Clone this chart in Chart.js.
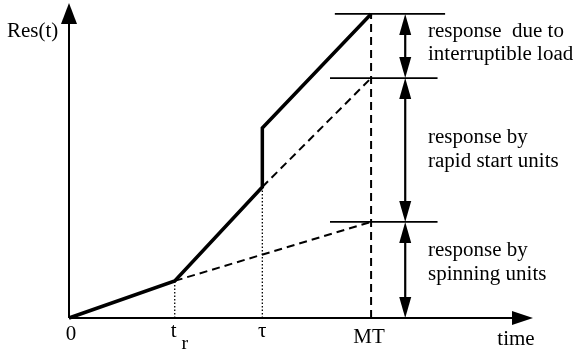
<!DOCTYPE html>
<html>
<head>
<meta charset="utf-8">
<script src="https://cdn.jsdelivr.net/npm/chart.js@4.4.1/dist/chart.umd.min.js"></script>
<style>
  html, body { margin: 0; padding: 0; background: #fff; }
  #wrap { width: 575px; height: 352px; }
</style>
</head>
<body>
<div id="wrap"><canvas id="resChart"></canvas></div>
<script>
// time marks (arbitrary units) and response levels
const tickNames = ['0', 't', '\u03c4', 'MT'];
const tickTimes = [0, 3.5, 6.4, 10];
const responseTimes = [0, 3.5, 6.4, 6.4, 10];
const responseValues = [0, 1.22, 4.31, 6.25, 10];
const spinningLine = [[3.5, 1.22], [10, 3.16]];
const rapidLine = [[6.4, 4.31], [10, 7.89]];
const levels = [10, 7.89, 3.16];
const levelSpans = [[8.8, 12.45], [8.64, 12.2], [8.64, 12.2]];
const arrowTime = 11.13;
const sideLabels = [
    ['response  due to', 'interruptible load'],
    ['response by', 'rapid start units'],
    ['response by', 'spinning units']
];
const xMax = 15.36;
const yMax = 10.36;

const FONT = '20px "Liberation Serif", "DejaVu Serif", serif';

function pts(xs, ys) {
    return xs.map((x, i) => ({ x: x, y: ys[i] }));
}
function pairPts(p) {
    return p.map(a => ({ x: a[0], y: a[1] }));
}

function drawText(ctx, txt, x, y, align) {
    ctx.save();
    ctx.translate(x, y);
    ctx.scale(1.05, 1);
    ctx.textAlign = align || 'left';
    ctx.textBaseline = 'alphabetic';
    ctx.fillText(txt, 0, 0);
    ctx.restore();
}

function arrowHead(ctx, tipX, tipY, dx, dy, len, half) {
    // dx, dy: unit direction the arrow points
    const bx = tipX - dx * len, by = tipY - dy * len;
    ctx.beginPath();
    ctx.moveTo(tipX, tipY);
    ctx.lineTo(bx - dy * half, by + dx * half);
    ctx.lineTo(bx + dy * half, by - dx * half);
    ctx.closePath();
    ctx.fill();
}

const decorPlugin = {
    id: 'decor',
    afterDatasetsDraw(chart) {
        const ctx = chart.ctx;
        const xs = chart.scales.x, ys = chart.scales.y;
        const x0 = xs.getPixelForValue(0), y0 = ys.getPixelForValue(0);
        const xEnd = xs.getPixelForValue(xMax), yEnd = ys.getPixelForValue(yMax);
        ctx.save();
        ctx.fillStyle = '#000';
        ctx.strokeStyle = '#000';

        // axes with arrows
        ctx.lineWidth = 2;
        ctx.beginPath();
        ctx.moveTo(x0, y0);
        ctx.lineTo(x0, yEnd + 15);
        ctx.moveTo(x0, y0);
        ctx.lineTo(xEnd - 15, y0);
        ctx.stroke();
        arrowHead(ctx, x0, yEnd, 0, -1, 21, 8);
        arrowHead(ctx, xEnd, y0, 1, 0, 21, 7);

        // level lines
        ctx.lineWidth = 1.8;
        levels.forEach((lv, i) => {
            const py = ys.getPixelForValue(lv);
            ctx.beginPath();
            ctx.moveTo(xs.getPixelForValue(levelSpans[i][0]), py);
            ctx.lineTo(xs.getPixelForValue(levelSpans[i][1]), py);
            ctx.stroke();
        });

        // double arrows between levels
        const ax = xs.getPixelForValue(arrowTime);
        const bounds = levels.concat([0]);
        ctx.lineWidth = 2.2;
        for (let i = 0; i < levels.length; i++) {
            const top = ys.getPixelForValue(bounds[i]);
            const bot = ys.getPixelForValue(bounds[i + 1]);
            ctx.beginPath();
            ctx.moveTo(ax, top + 10);
            ctx.lineTo(ax, bot - 10);
            ctx.stroke();
            arrowHead(ctx, ax, top, 0, -1, 21, 6);
            arrowHead(ctx, ax, bot, 0, 1, 21, 6);
        }

        // text
        ctx.font = FONT;
        const baselines = [[37, 60], [143, 167], [256, 280]];
        sideLabels.forEach((pair, i) => {
            drawText(ctx, pair[0], 428, baselines[i][0]);
            drawText(ctx, pair[1], 428, baselines[i][1]);
        });
        drawText(ctx, 'Res(t)', 7, 37);
        drawText(ctx, 'time', 516, 345, 'center');

        const tickBase = [340, 337, 337, 343];
        const tickDx = [2, -1, 0, -2];
        tickNames.forEach((name, i) => {
            drawText(ctx, name, xs.getPixelForValue(tickTimes[i]) + tickDx[i], tickBase[i], 'center');
        });
        ctx.font = '19px "Liberation Serif", "DejaVu Serif", serif';
        drawText(ctx, 'r', xs.getPixelForValue(tickTimes[1]) + 10, 349, 'center');
        ctx.restore();
    }
};

const dashed = { borderColor: '#000', borderWidth: 2, borderDash: [8, 5], pointRadius: 0, fill: false, clip: false };
const dotted = { borderColor: '#000', borderWidth: 1.3, borderDash: [1.5, 2], pointRadius: 0, fill: false, clip: false };

const ctx = document.getElementById('resChart').getContext('2d');
const resChart = new Chart(ctx, {
    type: 'line',
    data: {
        datasets: [
            Object.assign({ data: pairPts(spinningLine) }, dashed),
            Object.assign({ data: pairPts(rapidLine) }, dashed),
            Object.assign({ data: [{ x: tickTimes[3], y: 0 }, { x: tickTimes[3], y: levels[0] }] }, dashed),
            Object.assign({ data: [{ x: tickTimes[1], y: 0 }, { x: tickTimes[1], y: responseValues[1] }] }, dotted),
            Object.assign({ data: [{ x: tickTimes[2], y: 0 }, { x: tickTimes[2], y: responseValues[2] }] }, dotted),
            {
                data: pts(responseTimes, responseValues),
                borderColor: '#000',
                borderWidth: 3.5,
                pointRadius: 0,
                fill: false,
                clip: false,
                borderJoinStyle: 'miter'
            }
        ]
    },
    options: {
        responsive: true,
        maintainAspectRatio: false,
        animation: false,
        layout: { padding: { left: 69, right: 42, top: 3, bottom: 34 } },
        plugins: { legend: { display: false }, tooltip: { enabled: false } },
        scales: {
            x: { type: 'linear', min: 0, max: xMax, display: false },
            y: { type: 'linear', min: 0, max: yMax, display: false }
        }
    },
    plugins: [decorPlugin]
});
</script>
</body>
</html>
